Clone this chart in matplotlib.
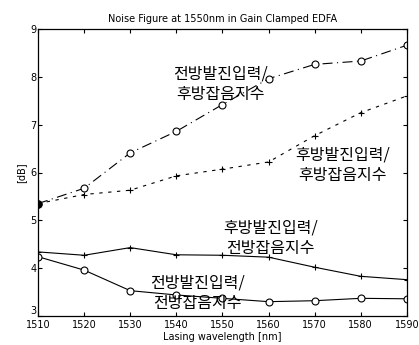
import matplotlib
matplotlib.use('Agg')
import matplotlib.pyplot as plt

wavelength = [1510, 1520, 1530, 1540, 1550, 1560, 1570, 1580, 1590]
fwd_pump_bwd_noise = [5.35, 5.67, 6.41, 6.86, 7.42, 7.96, 8.26, 8.33, 8.66]
bwd_pump_bwd_noise = [5.35, 5.54, 5.63, 5.93, 6.07, 6.22, 6.77, 7.25, 7.60]
bwd_pump_fwd_noise = [4.34, 4.27, 4.43, 4.28, 4.27, 4.23, 4.02, 3.83, 3.76]
fwd_pump_fwd_noise = [4.24, 3.96, 3.53, 3.44, 3.37, 3.30, 3.32, 3.37, 3.36]

labels = ['전방발진입력/\n후방잡음지수', '후방발진입력/\n후방잡음지수',
          '후방발진입력/\n전방잡음지수', '전방발진입력/\n전방잡음지수']
label_pos = [(1549.5, 7.84), (1576.0, 6.15), (1560.5, 4.63), (1544.5, 3.48)]

plt.rcParams['font.family'] = ['DejaVu Sans']
plt.rcParams['xtick.direction'] = 'in'
plt.rcParams['ytick.direction'] = 'in'

fig = plt.figure(figsize=(4.19, 3.45), dpi=100)
ax = fig.add_axes([0.0907, 0.084, 0.8803, 0.832])

ax.plot(wavelength, fwd_pump_bwd_noise, color='black', lw=0.8, ls=(0, (9, 4, 1, 4)),
        marker='o', ms=5, mfc='white', mew=0.8)
ax.plot(wavelength, bwd_pump_bwd_noise, color='black', lw=0.8, ls=(0, (3, 5)),
        marker='+', ms=5, mew=0.8)
ax.plot(wavelength, bwd_pump_fwd_noise, color='black', lw=0.8, ls='-',
        marker='+', ms=5, mew=0.8)
ax.plot(wavelength, fwd_pump_fwd_noise, color='black', lw=0.8, ls='-',
        marker='o', ms=5, mfc='white', mew=0.8)
# overlapping start point shows as a solid dot
ax.plot(wavelength[0], fwd_pump_bwd_noise[0], 'ko', ms=5)

for lab, (x, y) in zip(labels, label_pos):
    ax.text(x, y, lab, ha='center', va='center', fontsize=11.5, linespacing=1.25,
            family=['Noto Sans CJK KR', 'DejaVu Sans'])

ax.set_xlim(1510, 1590)
ax.set_ylim(3, 9)
ax.set_xticks(wavelength)
ax.set_yticks([3, 4, 5, 6, 7, 8, 9])
ax.tick_params(labelsize=7, length=3, width=0.8, top=True, right=True, pad=1)
ax.tick_params(axis='x', pad=3)
ax.get_yticklabels()[0].set_va('bottom')
for s in ax.spines.values():
    s.set_linewidth(0.9)

ax.set_title('Noise Figure at 1550nm in Gain Clamped EDFA', fontsize=7, pad=5)
ax.set_xlabel('Lasing wavelength [nm]', fontsize=7, labelpad=1)
ax.set_ylabel('[dB]', fontsize=7, labelpad=3)

fig.savefig('out.png', dpi=100)
